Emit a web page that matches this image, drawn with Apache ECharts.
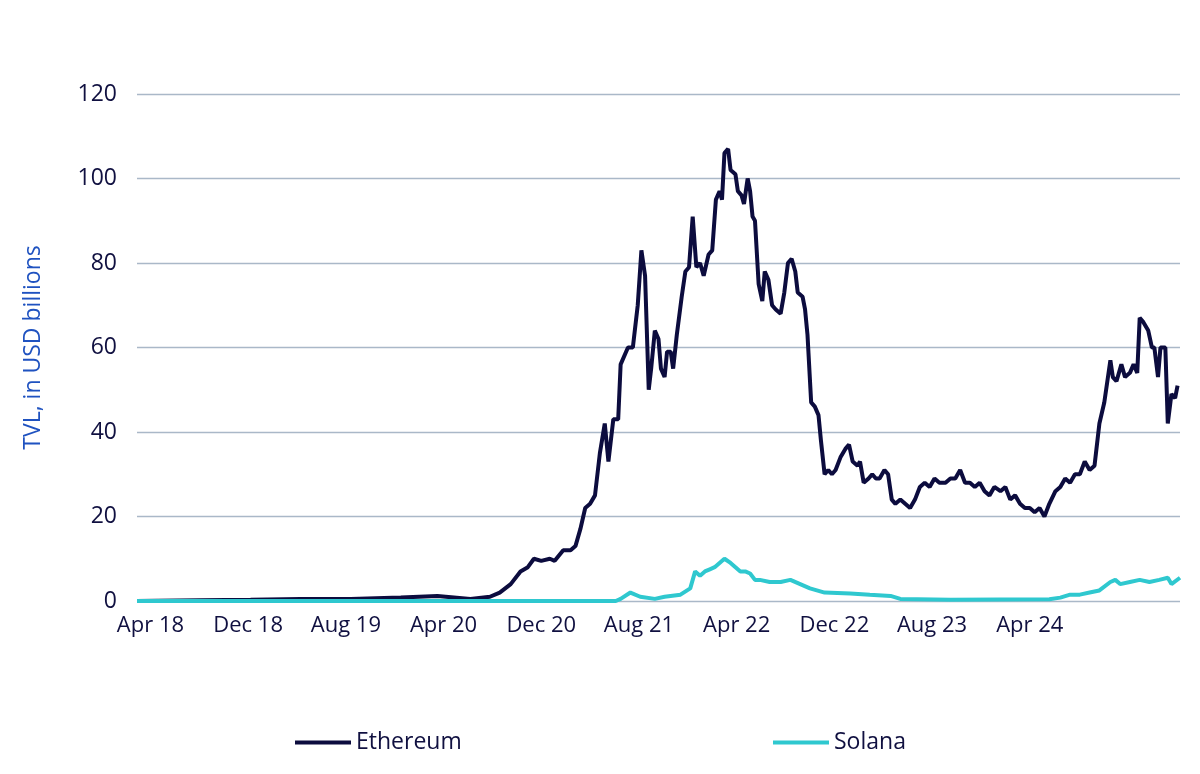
<!DOCTYPE html>
<html>
<head>
<meta charset="utf-8">
<script src="https://cdn.jsdelivr.net/npm/echarts@6/dist/echarts.min.js"></script>
<style>html,body{margin:0;padding:0;background:#fff}#main{width:1200px;height:774px}</style>
</head>
<body>
<div id="main"></div>
<script>
// months since Apr 2018
var tickMonths = [0, 8, 16, 24, 32, 40, 48, 56, 64, 72];
var tickLabels = ['Apr 18', 'Dec 18', 'Aug 19', 'Apr 20', 'Dec 20', 'Aug 21', 'Apr 22', 'Dec 22', 'Aug 23', 'Apr 24'];

var ethMonths = [-1.1,4.1,8.2,12.3,16.4,20.5,23.5,26.2,27.8,28.6,29.5,30.3,30.9,31.4,32.0,32.7,33.1,33.8,34.4,34.8,35.2,35.6,36.0,36.4,36.8,37.2,37.5,37.9,38.3,38.5,39.1,39.5,39.9,40.2,40.5,40.8,41.0,41.3,41.6,41.8,42.1,42.3,42.6,42.8,43.1,43.5,43.8,44.1,44.4,44.7,45.0,45.3,45.7,46.0,46.3,46.6,46.8,47.0,47.3,47.5,47.9,48.1,48.4,48.6,48.9,49.1,49.3,49.5,49.8,50.1,50.3,50.6,50.9,51.2,51.6,51.9,52.2,52.5,52.8,53.0,53.4,53.6,53.8,54.1,54.4,54.7,54.9,55.2,55.5,55.8,56.1,56.5,56.9,57.2,57.5,57.9,58.1,58.4,58.8,59.1,59.4,59.7,60.1,60.4,60.7,61.0,61.4,61.8,62.2,62.6,63.0,63.4,63.8,64.2,64.6,65.1,65.5,65.9,66.3,66.7,67.1,67.5,67.9,68.3,68.7,69.1,69.6,70.0,70.4,70.8,71.2,71.6,72.0,72.4,72.8,73.2,73.6,74.1,74.5,74.9,75.3,75.7,76.1,76.5,76.9,77.3,77.7,78.1,78.6,78.8,79.1,79.5,79.8,80.2,80.5,80.8,81.0,81.3,81.7,82.0,82.2,82.5,82.7,83.1,83.3,83.6,83.9,84.1];
var ethValues = [0,0.2,0.3,0.5,0.5,0.8,1.2,0.5,1,2,4,7,8,10,9.5,10,9.5,12,12,13,17,22,23,25,35,42,33,43,43,56,60,60,70,83,77,50,55,64,62,55,53,59,59,55,63,72,78,79,91,79,80,77,82,83,95,97,95,106,107,102,101,97,96,94,100,97,91,90,75,71,78,76,70,69,68,73,80,81,78,73,72,69,63,47,46,44,38,30,31,30,31,34,36,37,33,32,33,28,29,30,29,29,31,30,24,23,24,23,22,24,27,28,27,29,28,28,29,29,31,28,28,27,28,26,25,27,26,27,24,25,23,22,22,21,22,20,23,26,27,29,28,30,30,33,31,32,42,47,57,53,52,56,53,54,56,54,67,66,64,60,60,53,60,60,42,49,48,51];

var solMonths = [-1.1,38.1,38.5,39.3,40.1,41.3,42.1,43.4,44.2,44.6,45.0,45.4,45.8,46.2,46.6,47.0,47.5,47.9,48.3,48.7,49.1,49.5,49.9,50.7,51.6,52.4,53.2,54.0,55.2,57.3,58.9,60.6,61.4,65.5,73.6,74.5,75.3,76.1,76.9,77.7,78.6,79.0,79.4,80.2,81.0,81.8,82.6,83.3,83.6,84.3];
var solValues = [0,0,0.5,2,1,0.5,1,1.5,3,7,6,7,7.5,8,9,10,9,8,7,7,6.5,5,5,4.5,4.5,5,4,3,2,1.8,1.5,1.2,0.5,0.3,0.4,0.8,1.5,1.5,2,2.5,4.5,5,4,4.5,5,4.5,5,5.5,4,5.5];

function pairs(xs, ys) {
    var out = [];
    for (var i = 0; i < xs.length; i++) out.push([xs[i], ys[i]]);
    return out;
}

var myChart = echarts.init(document.getElementById('main'));
var textColor = '#101040';
var option = {
    animation: false,
    grid: { left: 137, right: 20, top: 94, bottom: 173 },
    legend: [
        { data: ['Ethereum'], left: 290, top: 726, itemWidth: 56, itemHeight: 4, icon: 'rect',
          textStyle: { fontSize: 23, color: textColor, fontFamily: 'Open Sans' } },
        { data: ['Solana'], left: 768, top: 726, itemWidth: 56, itemHeight: 4, icon: 'rect',
          textStyle: { fontSize: 23, color: textColor, fontFamily: 'Open Sans' } }
    ],
    xAxis: {
        type: 'value', min: -1.1, max: 84.3,
        splitLine: { show: false },
        axisLine: { show: false },
        axisTick: { show: false },
        axisLabel: {
            customValues: tickMonths,
            alignMinLabel: 'center',
            margin: 14,
            fontSize: 22, color: textColor, fontFamily: 'Open Sans',
            formatter: function (v) {
                var i = tickMonths.indexOf(Math.round(v));
                return i >= 0 ? tickLabels[i] : '';
            }
        }
    },
    yAxis: {
        type: 'value', min: 0, max: 120, interval: 20,
        name: 'TVL, in USD billions', nameLocation: 'middle', nameGap: 92, nameRotate: 90,
        nameTextStyle: { fontSize: 23, color: '#1f52c0', fontFamily: 'Open Sans' },
        axisLabel: { fontSize: 23, color: textColor, fontFamily: 'Open Sans', margin: 20 },
        splitLine: { lineStyle: { color: '#aab8c8', width: 1.3 } },
        axisLine: { show: false }, axisTick: { show: false }
    },
    series: [
        { name: 'Ethereum', type: 'line', data: pairs(ethMonths, ethValues), showSymbol: false,
          lineStyle: { color: '#0c0c3e', width: 4 }, itemStyle: { color: '#0c0c3e' } },
        { name: 'Solana', type: 'line', data: pairs(solMonths, solValues), showSymbol: false,
          lineStyle: { color: '#2fc8cf', width: 4 }, itemStyle: { color: '#2fc8cf' } }
    ]
};
myChart.setOption(option);
</script>
</body>
</html>
